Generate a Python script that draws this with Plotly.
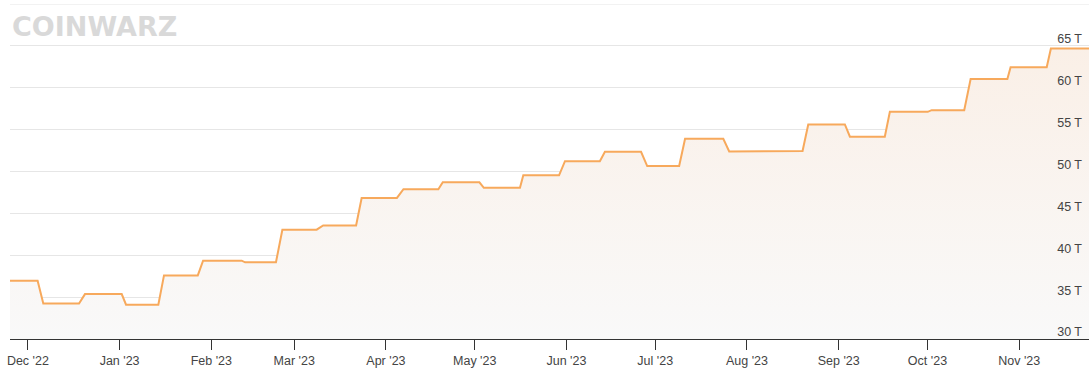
import plotly.graph_objects as go

# Corner points of the difficulty steps (start / end of each plateau), in T
dates = [
    "2022-11-24 23:00", "2022-12-04 07:00",
    "2022-12-06 05:00", "2022-12-18 07:00",
    "2022-12-20 07:00", "2023-01-01 17:00",
    "2023-01-03 04:00", "2023-01-14 02:00",
    "2023-01-16 00:00", "2023-01-27 10:00",
    "2023-01-29 05:00", "2023-02-11 06:00",
    "2023-02-12 10:00", "2023-02-22 20:00",
    "2023-02-25 00:00", "2023-03-08 14:00",
    "2023-03-10 19:00", "2023-03-21 22:00",
    "2023-03-23 19:00", "2023-04-04 17:00",
    "2023-04-06 22:00", "2023-04-18 17:00",
    "2023-04-20 05:00", "2023-05-02 14:00",
    "2023-05-04 02:00", "2023-05-16 07:00",
    "2023-05-17 10:00", "2023-05-29 12:00",
    "2023-05-31 12:00", "2023-06-12 07:00",
    "2023-06-14 00:00", "2023-06-26 05:00",
    "2023-06-28 07:00", "2023-07-09 02:00",
    "2023-07-11 02:00", "2023-07-24 00:00",
    "2023-07-26 00:00", "2023-08-07 17:00",
    "2023-08-08 12:00", "2023-08-19 19:00",
    "2023-08-21 17:00", "2023-09-03 02:00",
    "2023-09-04 19:00", "2023-09-16 14:00",
    "2023-09-18 07:00", "2023-10-01 02:00",
    "2023-10-02 10:00", "2023-10-13 10:00",
    "2023-10-15 14:00", "2023-10-28 00:00",
    "2023-10-29 02:00", "2023-11-10 07:00",
    "2023-11-11 17:00", "2023-11-24 14:00",
]
difficulty_t = [
    36.95, 36.95,
    34.24, 34.24,
    35.36, 35.36,
    34.09, 34.09,
    37.59, 37.59,
    39.35, 39.35,
    39.16, 39.16,
    43.05, 43.05,
    43.55, 43.55,
    46.84, 46.84,
    47.89, 47.89,
    48.71, 48.71,
    48.05, 48.05,
    49.55, 49.55,
    51.23, 51.23,
    52.35, 52.35,
    50.65, 50.65,
    53.91, 53.91,
    52.39, 52.39,
    52.45, 52.45,
    55.62, 55.62,
    54.15, 54.15,
    57.12, 57.12,
    57.32, 57.32,
    61.03, 61.03,
    62.46, 62.46,
    64.68, 64.68,
]

y_ticks = [30, 35, 40, 45, 50, 55, 60, 65]
y_tick_labels = ["30 T", "35 T", "40 T", "45 T", "50 T", "55 T", "60 T", "65 T"]
x_ticks = ["2022-12-01", "2023-01-01", "2023-02-01", "2023-03-01", "2023-04-01",
           "2023-05-01", "2023-06-01", "2023-07-01", "2023-08-01", "2023-09-01",
           "2023-10-01", "2023-11-01"]
x_tick_labels = ["Dec '22", "Jan '23", "Feb '23", "Mar '23", "Apr '23", "May '23",
                 "Jun '23", "Jul '23", "Aug '23", "Sep '23", "Oct '23", "Nov '23"]

fig = go.Figure()
fig.add_trace(go.Scatter(
    x=dates, y=difficulty_t, mode="lines",
    line=dict(color="#f7a95c", width=2),
    fill="tozeroy",
    fillgradient=dict(type="vertical", start=30, stop=66,
                      colorscale=[[0, "rgb(249,249,249)"], [1, "rgb(250,239,230)"]]),
    hoverinfo="skip",
))

# top gridline (70 T)
fig.add_shape(type="line", xref="paper", yref="y", x0=0, x1=1, y0=70, y1=70,
              line=dict(color="#e6e6e6", width=1), layer="below")

fig.add_annotation(text="<b>COINWARZ</b>", xref="paper", yref="paper",
                   x=0.0, y=0.985, xanchor="left", yanchor="top", showarrow=False,
                   font=dict(family="DejaVu Sans", size=27, color="#d9d9d9"))

fig.update_layout(
    width=1089, height=386,
    margin=dict(l=10, r=0, t=4, b=47, autoexpand=False),
    paper_bgcolor="white", plot_bgcolor="white",
    showlegend=False,
    font=dict(family="Liberation Sans, Arial, sans-serif", size=12, color="#444444"),
    xaxis=dict(
        type="date", automargin=False,
        range=["2022-11-24 23:00", "2023-11-24 14:00"],
        tickvals=x_ticks, ticktext=x_tick_labels,
        showgrid=False, zeroline=False,
        showline=True, linecolor="#333333", linewidth=1,
        ticks="outside", ticklen=10, tickcolor="#333333", tickwidth=1,
        tickfont=dict(size=12.5, color="#444444"),
    ),
    yaxis=dict(
        range=[30, 70], side="right", automargin=False,
        tickvals=y_ticks, ticktext=y_tick_labels,
        ticklabelposition="inside", ticklabelshift=-7, ticklabelstandoff=4,
        ticklabeloverflow="allow",
        showgrid=True, gridcolor="#e6e6e6", gridwidth=1,
        zeroline=False, showline=False, ticks="",
        tickfont=dict(size=12.5, color="#444444"),
    ),
)

fig.write_html("out.html", config={"displayModeBar": False},
               post_script="document.body.style.margin='0';document.body.style.overflow='hidden';")
